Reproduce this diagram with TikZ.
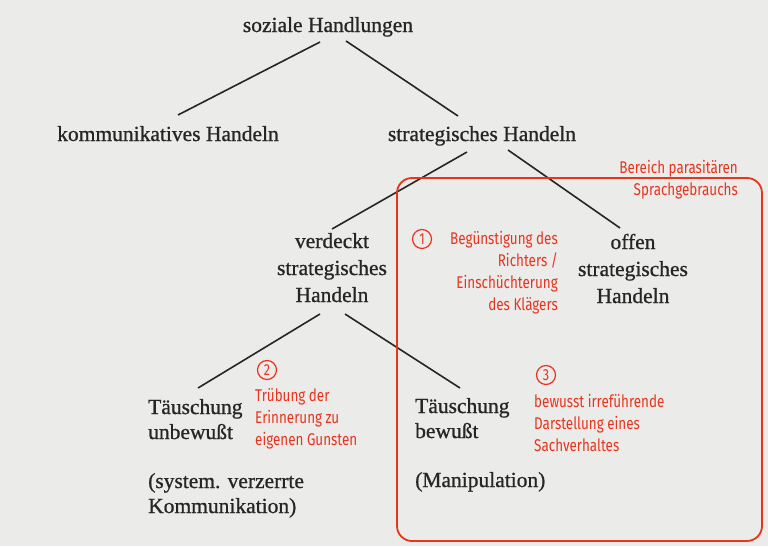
\documentclass[tikz,border=0pt]{standalone}
\usepackage{fontspec}
\setmainfont{Liberation Serif}[FakeBold=0.9]
\newfontfamily\redfont{Fira Sans}[FakeStretch=0.79]
\definecolor{paper}{RGB}{235,235,233}
\definecolor{ink}{RGB}{38,38,38}
\definecolor{redmark}{RGB}{232,52,30}

\tikzstyle{tS}=[inner sep = 0pt, text=ink, font=\fontsize{21.5}{27}\selectfont, align=center, anchor=base]
\tikzstyle{tL}=[inner sep = 0pt, text=ink, font=\fontsize{21.5}{25}\selectfont, align=left, anchor=base west]
\tikzstyle{lS}=[line width=1.6pt, draw=ink]
\tikzstyle{rS}=[inner sep = 0pt, text=redmark, font=\redfont\fontsize{17}{21.7}\selectfont]
\tikzstyle{cS}=[circle, draw=redmark, line width=1.2pt, minimum size = 19pt, inner sep = 0pt, text=redmark, font=\redfont\fontsize{16}{16}\selectfont]

\begin{document}
\begin{tikzpicture}[x=1pt, y=-1pt]
                \fill[paper] (0,0) rectangle (768,546);
                \useasboundingbox (0,0) rectangle (768,546);
                % tree (base = last line)
                \draw (328,32) node[tS] (soz) {soziale Handlungen};
                \draw (168,141) node[tS] (kom) {kommunikatives Handeln};
                \draw (482,141) node[tS] (str) {strategisches Handeln};
                \draw (332,302) node[tS] (ver) {verdeckt\\strategisches\\Handeln};
                \draw (633,303) node[tS] (off) {offen\\strategisches\\Handeln};
                \draw (148,439) node[tL] (tun) {Täuschung\\unbewußt};
                \draw (148,513) node[tL] (sys) {(system. verzerrte\\Kommunikation)};
                \draw (415,438) node[tL] (tbe) {Täuschung\\bewußt};
                \draw (415,487) node[tL] (man) {(Manipulation)};
                \path
                    ([shift={(-8,10)}]soz.base) edge[lS] ([shift={(10,-26)}]kom.base)
                    ([shift={(18,9)}]soz.base) edge[lS] ([shift={(-24,-25)}]str.base)
                    ([shift={(-15,11)}]str.base) edge[lS] ([shift={(0,-73)}]ver.base)
                    ([shift={(26,9)}]str.base) edge[lS] ([shift={(-13,-75)}]off.base)
                    ([shift={(-12,12)}]ver.base) edge[lS] ([shift={(50,-51)}]tun.base west)
                    ([shift={(13,12)}]ver.base) edge[lS] ([shift={(45,-50)}]tbe.base west)
                ;
                % parasitaerer Bereich
                \draw[redmark, line width=1.8pt, rounded corners=15pt] (397,178) rectangle (762,541);
                \draw (738,195) node[rS, anchor=base east, align=right] (ber) {Bereich parasitären\\Sprachgebrauchs};
                \draw (422,239) node[cS] (c1) {1};
                \draw (558,310) node[rS, anchor=base east, align=right] (t1) {Begünstigung des\\Richters /\\Einschüchterung\\des Klägers};
                \draw (267,370) node[cS] (c2) {2};
                \draw (255,445) node[rS, anchor=base west, align=left] (t2) {Trübung der\\Erinnerung zu\\eigenen Gunsten};
                \draw (546,375) node[cS] (c3) {3};
                \draw (534,451) node[rS, anchor=base west, align=left] (t3) {bewusst irreführende\\Darstellung eines\\Sachverhaltes};
        \end{tikzpicture}
\end{document}
